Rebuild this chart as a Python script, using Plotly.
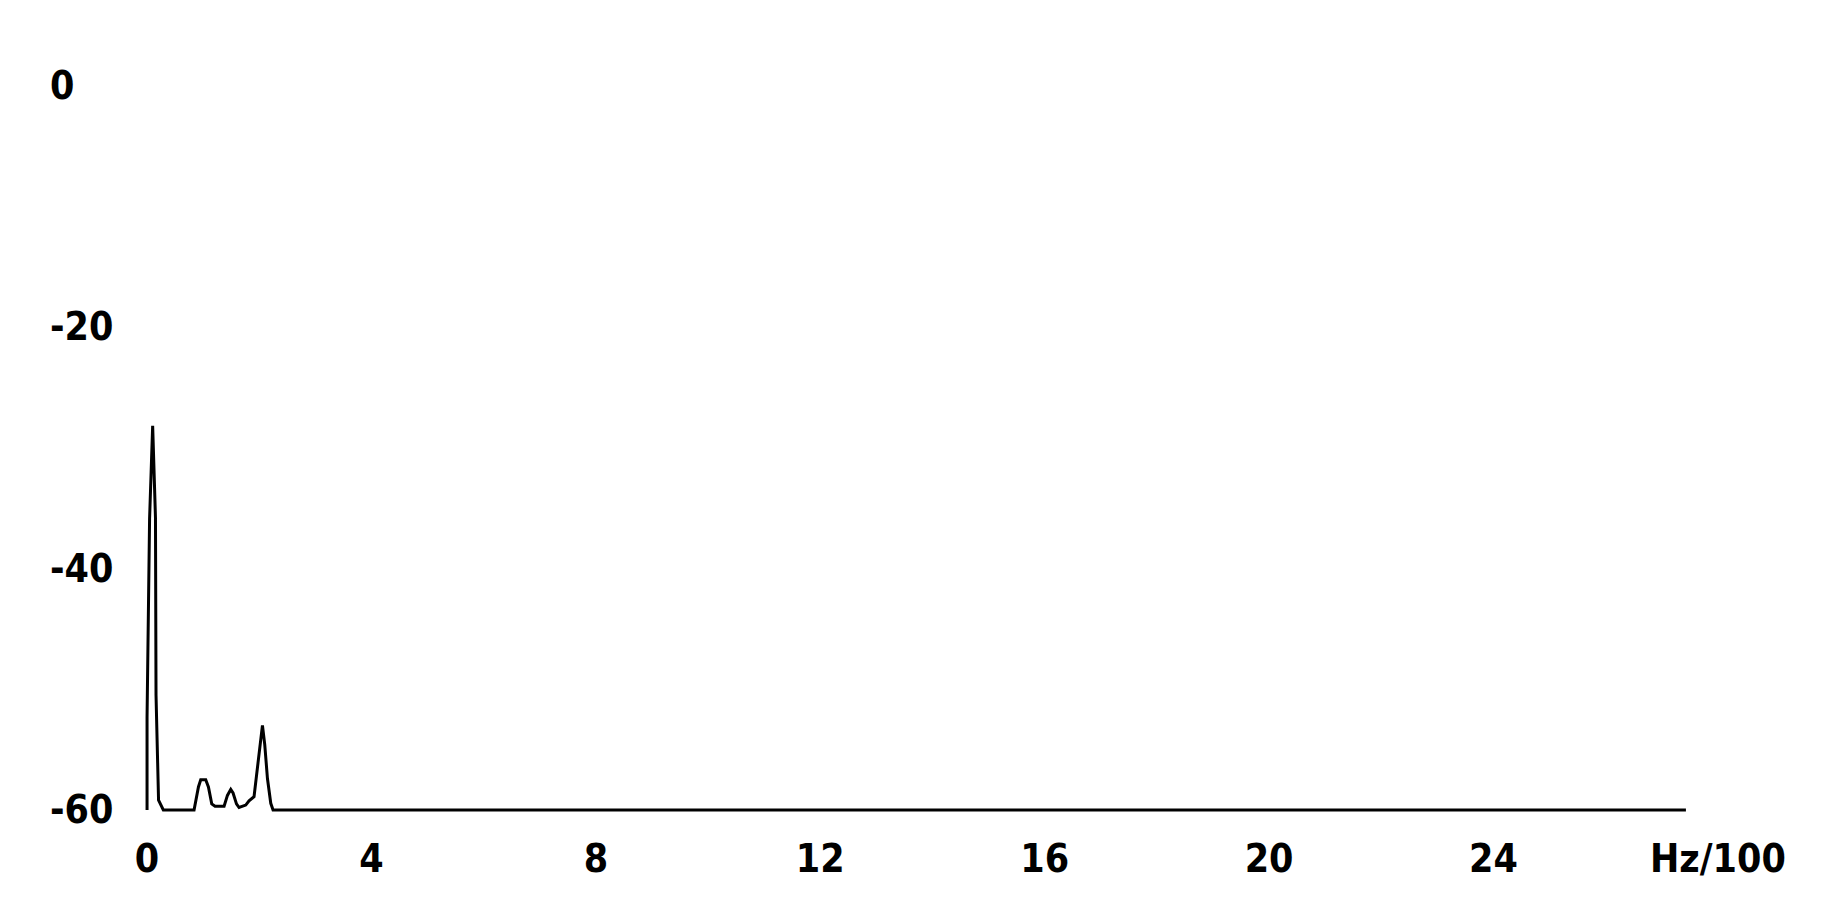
import plotly.graph_objects as go

# Spectrum samples (frequency in Hz/100, level in dB)
freq = [0.000, 0.000, 0.045, 0.100, 0.150, 0.160, 0.205, 0.250, 0.290,
        0.838, 0.916, 0.957, 1.046, 1.094, 1.153, 1.212, 1.373, 1.433,
        1.492, 1.533, 1.594, 1.640, 1.759, 1.818, 1.907, 1.950, 2.009,
        2.057, 2.098, 2.146, 2.205, 2.246, 27.43]
level = [-60.0, -52.3, -35.9, -28.2, -35.8, -50.5, -59.2, -59.6, -60.0,
         -60.0, -58.1, -57.5, -57.5, -58.1, -59.5, -59.7, -59.7, -58.8,
         -58.3, -58.6, -59.5, -59.8, -59.6, -59.25, -58.9, -57.2, -54.6,
         -53.0, -54.6, -57.4, -59.45, -60.0, -60.0]

x_ticks = [0, 4, 8, 12, 16, 20, 24, 28]
x_tick_labels = ["0", "4", "8", "12", "16", "20", "24", "Hz/100"]
y_ticks = [0, -20, -40, -60]
y_tick_labels = ["0", "-20", "-40", "-60"]

FONT = "Liberation Sans Narrow, DejaVu Sans Condensed, Arial Narrow, sans-serif"

fig = go.Figure()
fig.add_trace(go.Scatter(x=freq, y=level, mode="lines",
                         line=dict(color="black", width=3),
                         showlegend=False, hoverinfo="skip"))

# page body keeps an 8px margin, so the figure is a little smaller
W, H = 1828, 890
L, R, T, B = 111, 62, 65, 76
PW = W - L - R

for v, t in zip(y_ticks, y_tick_labels):
    fig.add_annotation(x=(40 - L) / PW, xref="paper", xanchor="left",
                       y=v, yref="y", yanchor="middle", text=t, showarrow=False,
                       font=dict(family=FONT, size=39, color="black", weight="bold"))

fig.update_layout(
    width=W, height=H,
    margin=dict(l=L, r=R, t=T, b=B),
    paper_bgcolor="white", plot_bgcolor="white",
    xaxis=dict(range=[-0.5, 29], tickvals=x_ticks, ticktext=x_tick_labels,
               showgrid=False, zeroline=False, showline=False, ticks="",
               ticklabelstandoff=10,
               tickfont=dict(family=FONT, size=39, color="black", weight="bold")),
    yaxis=dict(range=[-61, 1], showticklabels=False, showgrid=False,
               zeroline=False, showline=False, ticks=""),
)

fig.write_html("out.html")
